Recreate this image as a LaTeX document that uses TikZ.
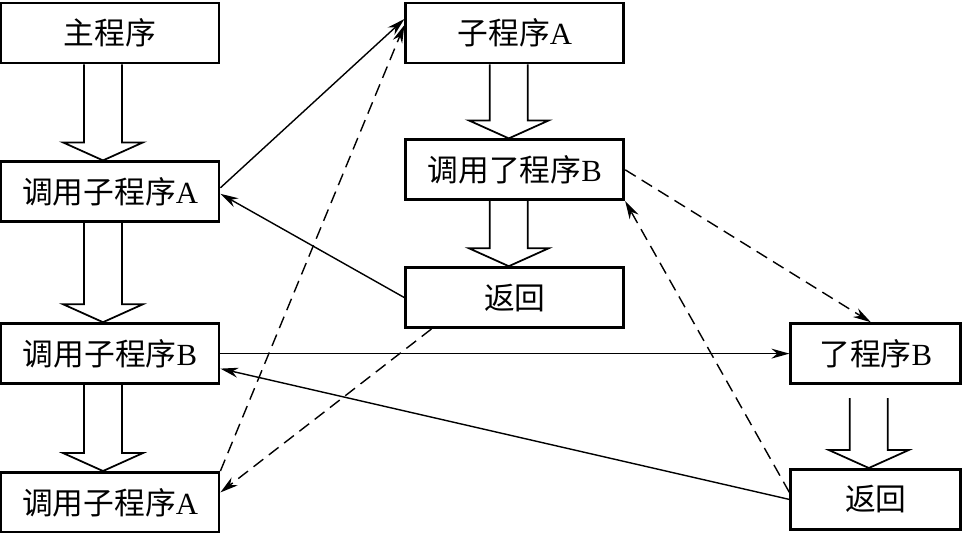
\documentclass[tikz,border=0pt]{standalone}
\usepackage{fontspec}
\setmainfont{Liberation Serif}
\newfontfamily\cjk{Noto Sans CJK SC}
\usetikzlibrary{arrows.meta,positioning,calc}

% hollow block arrow pointing down: #1 top of shaft, #2 tip
\newcommand{\hollowdown}[2]{%
  \draw[line width=1pt] let \p1=#1, \p2=#2 in
    (\x1-0.38cm,\y1) -- (\x1-0.38cm,\y2+0.36cm) -- (\x1-0.8cm,\y2+0.36cm)
    -- (\x1,\y2) -- (\x1+0.8cm,\y2+0.36cm) -- (\x1+0.38cm,\y2+0.36cm) -- (\x1+0.38cm,\y1);}

\begin{document}
\begin{tikzpicture}[>={Stealth[length=3.6mm,width=2mm]}]
  \tikzstyle{prog}=[draw,line width=1.6pt,minimum width=4.36cm,minimum height=1.2cm,inner sep=0pt,font=\fontsize{17.5}{20}\selectfont]
  \tikzstyle{call}=[->,line width=0.8pt]
  \tikzstyle{back}=[->,line width=0.8pt,dash pattern=on 7pt off 4pt]
  \useasboundingbox (0,0) rectangle (19.24,-10.66);
  % main program
  \node[prog] (main) at (2.2,-0.66) {\cjk 主程序};
  \node[prog,below=1.92cm of main] (callA) {{\cjk 调用子程序}A};
  \node[prog,below=1.98cm of callA] (callB) {{\cjk 调用子程序}B};
  \node[prog,below=1.72cm of callB] (callA2) {{\cjk 调用子程序}A};
  % subroutine A
  \node[prog,right=3.68cm of main] (subA) {{\cjk 子程序}A};
  \node[prog,below=1.48cm of subA] (subAcallB) {{\cjk 调用了程序}B};
  \node[prog,below=1.3cm of subAcallB] (retA) {\cjk 返回};
  % subroutine B
  \node[prog,minimum width=3.4cm,right=11.38cm of callB] (subB) {{\cjk 了程序}B};
  \node[prog,minimum width=3.4cm,below=1.66cm of subB] (retB) {\cjk 返回};
  % block arrows
  \hollowdown{($(main.south)+(-0.14,0)$)}{($(callA.north)+(-0.14,0)$)}
  \hollowdown{($(callA.south)+(-0.14,0)$)}{($(callB.north)+(-0.14,0)$)}
  \hollowdown{($(callB.south)+(-0.14,0)$)}{($(callA2.north)+(-0.14,0)$)}
  \hollowdown{($(subA.south)+(-0.12,0)$)}{($(subAcallB.north)+(-0.12,0)$)}
  \hollowdown{($(subAcallB.south)+(-0.12,0)$)}{($(retA.north)+(-0.12,0)$)}
  \hollowdown{($(subB.south)+(-0.14,-0.26)$)}{($(retB.north)+(-0.14,0)$)}
  % calls and returns
  \draw[call] ($(callA.east)+(0,0.08)$) -- ($(subA.west)+(0,0.28)$);
  \draw[call] (retA.west) -- ($(callA.east)+(0,-0.04)$);
  \draw[back] (callA2.north east) -- ($(subA.west)+(0,0.16)$);
  \draw[back] ($(retA.south west)+(0.54,0)$) -- ($(callA2.east)+(0,0.2)$);
  \draw[call] (callB.east) -- (subB.west);
  \draw[call] (retB.west) -- ($(callB.east)+(0,-0.3)$);
  \draw[back] (subAcallB.east) -- ($(subB.north)+(-0.1,0)$);
  \draw[back] ($(retB.west)+(0,0.14)$) -- (subAcallB.south east);
\end{tikzpicture}
\end{document}
